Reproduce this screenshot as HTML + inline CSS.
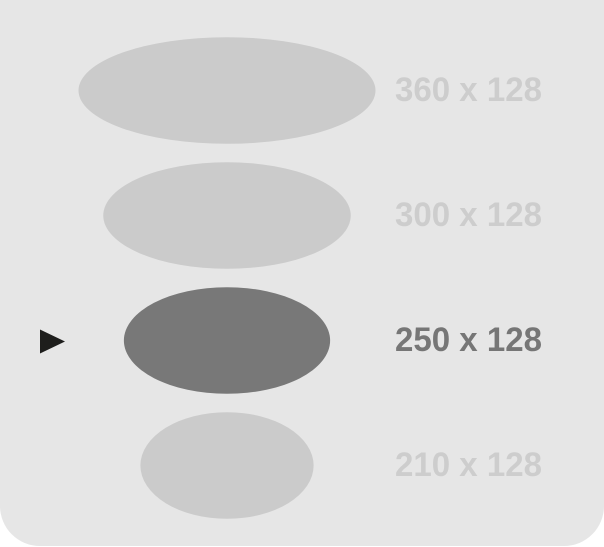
<!DOCTYPE html>
<html><head><meta charset="utf-8"><style>
html,body{margin:0;padding:0;background:#fff;}
#panel{position:absolute;left:0;top:0;width:604px;height:546px;background:#e6e6e6;border-radius:0 0 40px 40px;}
svg{position:absolute;left:0;top:0;}
</style></head><body>
<div id="panel"></div>
<svg width="604" height="547" id="s"></svg>
<script>
const widths=[360,300,250,210];
const heights=[128,128,128,128];
const selectedIndex=2;
const svg=document.getElementById('s');
const NS='http://www.w3.org/2000/svg';
const scale=0.825, cx=227, rowY0=90.5, rowGap=125;
widths.forEach((w,i)=>{
  const cy=rowY0+i*rowGap;
  const sel=i===selectedIndex;
  const g=document.createElementNS(NS,'g');
  
  
  const e=document.createElementNS(NS,'ellipse');
  
  
  e.setAttribute('cx',cx);e.setAttribute('cy',cy);
  e.setAttribute('rx',w*scale/2);e.setAttribute('ry',heights[i]*scale/2+0.5);
  e.setAttribute('fill',sel?'#787878':'#cbcbcb');
  g.appendChild(e);
  const t=document.createElementNS(NS,'text');
  
  
  t.setAttribute('x',395);t.setAttribute('y',cy+10.5);
  t.setAttribute('font-family','Liberation Sans, sans-serif');
  t.setAttribute('font-weight','bold');t.setAttribute('font-size','34');
  t.setAttribute('textLength','147');t.setAttribute('lengthAdjust','spacingAndGlyphs');
  t.setAttribute('fill',sel?'#767676':'#cdcdcd');
  t.textContent=w+' x '+heights[i];
  g.appendChild(t);
  if(sel){
    const p=document.createElementNS(NS,'polygon');
    
    
    p.setAttribute('points',`40,${cy-11} 65,${cy+1} 40,${cy+13}`);
    p.setAttribute('fill','#1e1e1c');
    g.appendChild(p);
  }
  svg.appendChild(g);
});
</script>
</body></html>
